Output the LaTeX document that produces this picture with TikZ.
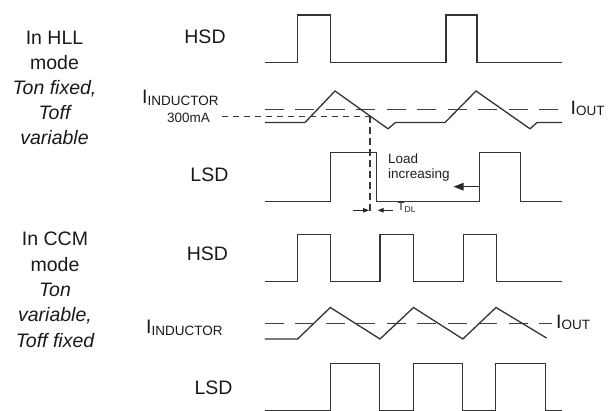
\documentclass[tikz,border=0pt]{standalone}
\usepackage{fontspec}
\setmainfont{Liberation Sans}
\usetikzlibrary{arrows.meta}
\newcommand\mainfs{\fontsize{19.5}{23}\selectfont}
\newcommand\smallfs{\fontsize{13.5}{16}\selectfont}
\newcommand\subfs{\fontsize{13.5}{16}\selectfont}
\newcommand\tdlfs{\fontsize{11.5}{13}\selectfont}
\newcommand\tdlsubfs{\fontsize{8.5}{10}\selectfont}
\begin{document}
\begin{tikzpicture}[x=1pt,y=-1pt,
  wave/.style={draw=black!80, line width=1.3pt, line join=miter},
  iout/.style={draw=black!75, line width=1.3pt, dash pattern=on 19pt off 11.5pt},
  refline/.style={draw=black!78, line width=1.2pt, dash pattern=on 6.5pt off 4.5pt},
  lbl/.style={font=\mainfs, text=black!90, inner sep=0pt, anchor=base},
  modetxt/.style={font=\mainfs, text=black!90, inner sep=0pt, anchor=base},
  smalltxt/.style={font=\smallfs, text=black!88, inner sep=0pt},
  bigarrow/.style={draw=black!85, line width=1.3pt, -{Triangle[length=10pt,width=7.5pt]}},
  tinyarrow/.style={draw=black!85, line width=1pt, -{Triangle[length=6pt,width=4.5pt]}}
]
\useasboundingbox (0,0) rectangle (608,411);

% ---------------- HLL mode ----------------
\node[modetxt] (h1) at (54.5,44.5) {In HLL};
\node[modetxt] (h2) at (54.5,69.5) {mode};
\node[modetxt] (h3) at (54.5,94.5) {\itshape Ton fixed,};
\node[modetxt] (h4) at (54.5,119.5) {\itshape Toff};
\node[modetxt] (h5) at (54.5,144.5) {\itshape variable};

\node[lbl] (hsd1) at (205,43.5) {HSD};
\node[lbl, anchor=base west] (ind1) at (142,103.3) {I\raisebox{-2.5pt}{\subfs INDUCTOR}};
\node[smalltxt, anchor=base] (ma) at (188.5,122.3) {300mA};
\node[lbl] (lsd1) at (209.4,181.7) {LSD};
\node[lbl, anchor=base west] (iout1) at (570.5,114.5) {I\raisebox{-1.5pt}{\subfs OUT}};

% HSD waveform
\draw[wave] (264.8,62.3) -- (297.4,62.3) -- (297.4,15) -- (330.7,15) -- (330.7,62.3)
  -- (445.9,62.3) -- (445.9,15) -- (477,15) -- (477,62.3) -- (562.2,62.3);

% IOUT level and inductor current
\draw[iout] (264.8,109.3) -- (560,109.3);
\draw[wave] (264.8,122.5) -- (305,122.5) -- (335,91) -- (388,128.8) -- (395.5,122.5)
  -- (445,122.5) -- (476,91) -- (530,128.8) -- (537,122.5) -- (562.2,122.5);

% 300mA threshold and vertical marker
\coordinate (thA) at (221.7,116.5);
\coordinate (thB) at (370,116.5);
\coordinate (thC) at (370,215);
\draw[refline] (thA) -- (thB);
\draw[refline, dash pattern=on 7pt off 4pt] (thB) -- (thC);

% LSD waveform
\draw[wave] (264.8,201.5) -- (330.5,201.5) -- (330.5,152.7) -- (376.7,152.7) -- (376.7,201.5)
  -- (479.3,201.5) -- (479.3,152.7) -- (520.7,152.7) -- (520.7,201.5) -- (562.2,201.5);

% Load increasing
\node[smalltxt, anchor=base west] (load1) at (388,163.3) {Load};
\node[smalltxt, anchor=base west] (load2) at (388,179) {increasing};
\coordinate (edge2) at (479.3,186.7);
\coordinate (loadtip) at (453.5,186.7);
\draw[bigarrow] (edge2) -- (loadtip);

% T_DL
\coordinate (tdlL) at (352.5,210.3);
\coordinate (tdlLt) at (369,210.3);
\coordinate (tdlR) at (392.5,210.3);
\coordinate (tdlRt) at (377.6,210.3);
\draw[tinyarrow] (tdlL) -- (tdlLt);
\draw[tinyarrow] (tdlR) -- (tdlRt);
\node[inner sep=0pt, anchor=base west, text=black!88] (tdl) at (397.5,210.6)
  {\tdlfs T\raisebox{-2pt}{\tdlsubfs DL}};

% ---------------- CCM mode ----------------
\node[modetxt] (c1) at (55,246) {In CCM};
\node[modetxt] (c2) at (55,271.3) {mode};
\node[modetxt] (c3) at (55,296.6) {\itshape Ton};
\node[modetxt] (c4) at (55,321.9) {\itshape variable,};
\node[modetxt] (c5) at (55,347.2) {\itshape Toff fixed};

\node[lbl] (hsd2) at (207.4,261) {HSD};
\node[lbl, anchor=base west] (ind2) at (146,333.3) {I\raisebox{-2.5pt}{\subfs INDUCTOR}};
\node[lbl] (lsd2) at (213.5,395) {LSD};
\node[lbl, anchor=base west] (iout2) at (556,328.3) {I\raisebox{-1.5pt}{\subfs OUT}};

% HSD waveform
\draw[wave] (264.8,281.7) -- (297.4,281.7) -- (297.4,234.3) -- (330.7,234.3) -- (330.7,281.7)
  -- (380,281.7) -- (380,234.3) -- (413.7,234.3) -- (413.7,281.7)
  -- (463.4,281.7) -- (463.4,234.3) -- (496.3,234.3) -- (496.3,281.7) -- (562.2,281.7);

% IOUT level and inductor current
\draw[iout] (264.8,323.3) -- (552,323.3);
\draw[wave] (264.8,339) -- (297.6,339) -- (330.3,307.5) -- (380,339) -- (413.5,307.5)
  -- (462.8,339) -- (496,307.5) -- (546.5,338);

% LSD waveform
\draw[wave] (264.8,410.6) -- (330.3,410.6) -- (330.3,363.3) -- (379.6,363.3) -- (379.6,410.6)
  -- (413.5,410.6) -- (413.5,363.3) -- (462.6,363.3) -- (462.6,410.6)
  -- (495.8,410.6) -- (495.8,363.3) -- (545.3,363.3) -- (545.3,410.6) -- (562.2,410.6);
\end{tikzpicture}
\end{document}
